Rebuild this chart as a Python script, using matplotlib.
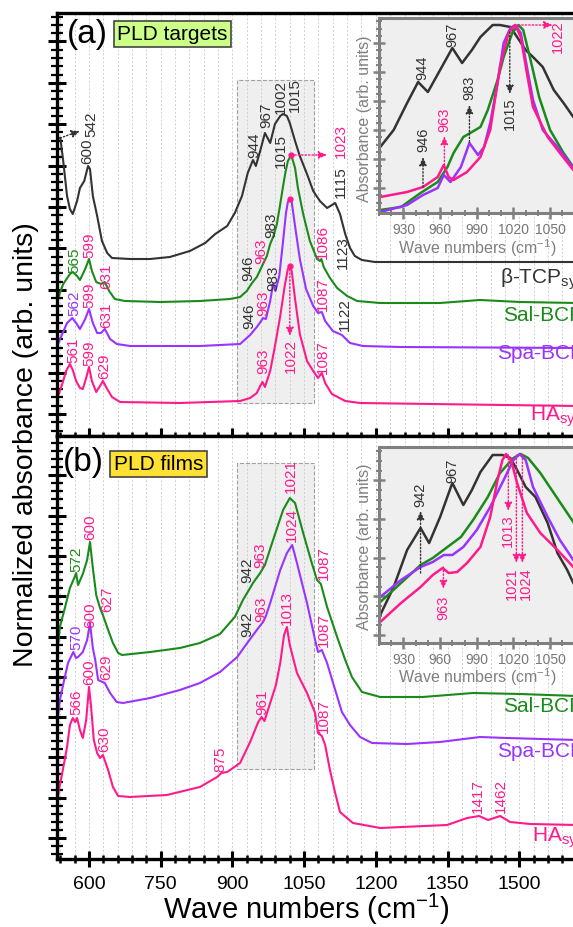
import numpy as np
import matplotlib.pyplot as plt
from matplotlib.patches import Rectangle
from matplotlib.ticker import MultipleLocator, FixedLocator

plt.rcParams['font.family'] = ['Liberation Sans', 'DejaVu Sans']
plt.rcParams['mathtext.fontset'] = 'custom'
plt.rcParams['mathtext.rm'] = 'Liberation Sans'
plt.rcParams['mathtext.it'] = 'Liberation Sans:italic'
plt.rcParams['mathtext.default'] = 'regular'

BLK, GRN, PUR, PNK = '#333333', '#1a8a1a', '#9933ff', '#ff1a8c'
GREY = '#808080'

# ---------- (a) PLD targets, main spectra ----------
a_tcp_wn = [533, 540, 546, 554, 560, 566, 575, 581, 590, 598, 602, 608, 617, 627, 638, 648, 686, 728,
            769, 811, 843, 864, 889, 905, 920, 932, 943, 949, 958, 968, 979, 989, 1000, 1006, 1014,
            1020, 1031, 1041, 1056, 1069, 1083, 1098, 1115, 1125, 1136, 1146, 1156, 1171, 1198, 1300,
            1450, 1620]
a_tcp_ab = [298, 298, 275, 240, 227, 222, 235, 248, 255, 270, 267, 240, 220, 195, 183, 178, 177, 177,
            179, 185, 193, 202, 210, 223, 240, 263, 276, 270, 285, 303, 293, 312, 320, 322, 320,
            313, 295, 280, 262, 245, 235, 228, 233, 222, 202, 188, 180, 176, 174, 174,
            174, 174]

a_sal_wn = [533, 546, 560, 566, 575, 581, 592, 600, 606, 615, 625, 633, 642, 654, 675, 749, 832, 895,
            916, 930, 941, 951, 964, 972, 979, 986, 993, 1000, 1006, 1011, 1016, 1023, 1031, 1037,
            1048, 1062, 1077, 1083, 1086, 1091, 1104, 1119, 1140, 1161, 1209, 1334, 1418, 1502, 1620]
a_sal_ab = [135, 152, 162, 164, 160, 156, 167, 177, 165, 154, 152, 154, 145, 137, 135, 134, 135, 137,
            139, 145, 153, 159, 172, 180, 192, 200, 212, 232, 250, 264, 275, 281, 268, 248,
            222, 195, 177, 175, 177, 169, 158, 148, 140, 135, 133, 133, 136, 134, 133]

a_spa_wn = [533, 544, 554, 565, 573, 581, 592, 600, 608, 617, 625, 633, 644, 658, 686, 832, 916, 937,
            951, 960, 964, 970, 979, 985, 990, 998, 1006, 1012, 1016, 1020, 1024, 1031, 1041, 1054,
            1069, 1079, 1087, 1094, 1110, 1129, 1146, 1173, 1251, 1620]
a_spa_ab = [90, 102, 113, 118, 113, 107, 117, 127, 113, 103, 103, 107, 97, 92, 90, 90, 92, 101,
            109, 115, 118, 117, 135, 152, 145, 160, 195, 223, 234, 237, 234, 210, 177, 147,
            130, 123, 124, 115, 105, 101, 93, 90, 89, 88]

a_ha_wn = [533, 544, 552, 560, 566, 573, 581, 587, 594, 600, 606, 615, 623, 629, 638, 648, 665, 790,
           916, 937, 951, 958, 963, 968, 979, 989, 1000, 1010, 1016, 1020, 1024, 1031, 1041, 1056,
           1069, 1079, 1087, 1094, 1108, 1136, 1167, 1620]
a_ha_ab = [37, 52, 65, 72, 66, 55, 48, 47, 58, 69, 55, 44, 50, 55, 47, 39, 34, 33,
           35, 38, 43, 50, 54, 49, 65, 90, 120, 152, 167, 170, 165, 137, 102, 75,
           65, 58, 63, 53, 42, 35, 33, 30]

# ---------- (b) PLD films, main spectra ----------
b_sal_wn = [531, 539, 550, 560, 569, 573, 577, 587, 596, 602, 608, 615, 623, 629, 640, 650, 661, 669,
            728, 790, 832, 874, 905, 922, 943, 958, 968, 985, 1006, 1020, 1031, 1048, 1066, 1077,
            1085, 1098, 1119, 1136, 1150, 1171, 1209, 1298, 1403, 1502, 1620]
b_sal_ab = [192, 232, 252, 271, 281, 286, 274, 285, 299, 317, 291, 264, 251, 244, 229, 216, 206, 204,
            207, 211, 216, 225, 242, 259, 276, 286, 294, 319, 349, 361, 356, 326, 296, 279,
            275, 252, 222, 199, 182, 167, 162, 162, 166, 165, 163]

b_spa_wn = [531, 539, 548, 556, 567, 573, 577, 587, 596, 602, 608, 613, 619, 633, 644, 658, 671, 728,
            790, 832, 874, 910, 931, 951, 964, 970, 979, 1000, 1014, 1025, 1035, 1056, 1073, 1079,
            1087, 1098, 1115, 1129, 1146, 1167, 1192, 1265, 1334, 1418, 1474, 1620]
b_spa_ab = [126, 159, 179, 196, 207, 201, 202, 207, 219, 236, 211, 199, 179, 176, 166, 157, 156, 161,
            169, 176, 187, 202, 216, 229, 237, 243, 256, 289, 306, 314, 296, 256, 219, 207,
            209, 196, 169, 147, 134, 122, 116, 115, 117, 122, 121, 119]

b_ha_wn = [531, 537, 544, 554, 560, 566, 571, 575, 581, 587, 594, 600, 604, 610, 617, 623, 629, 640,
           650, 661, 686, 763, 832, 868, 877, 889, 916, 937, 954, 961, 967, 979, 991, 1000, 1008,
           1014, 1020, 1035, 1056, 1073, 1079, 1087, 1094, 1104, 1115, 1125, 1152, 1209, 1349, 1391,
           1416, 1435, 1460, 1481, 1523, 1620]
b_ha_ab = [44, 69, 86, 112, 134, 141, 137, 141, 129, 121, 139, 172, 154, 119, 106, 101, 104, 89,
           72, 63, 62, 64, 72, 82, 86, 87, 96, 117, 137, 142, 138, 156, 174, 196, 224,
           232, 214, 186, 166, 146, 126, 123, 114, 89, 66, 47, 36, 31, 34, 41,
           43, 39, 43, 37, 35, 34]

# ---------- insets (zoom 910-1070 cm-1) ----------
ia_tcp_wn = [911, 922, 933, 942, 950, 960, 970, 978, 986, 993, 1003, 1009, 1017.5, 1023, 1030, 1036,
             1044, 1053, 1061, 1069, 1072]
ia_tcp_ab = [66, 83, 110, 131, 121, 143, 165, 150, 163, 176, 188, 188, 186, 176, 163, 156,
             146, 123, 110, 96, 92]
ia_sal_wn = [911, 928, 944, 958, 966, 971, 979, 986, 993, 999, 1007, 1012, 1019, 1024, 1028, 1034,
             1041, 1050, 1061, 1069, 1072]
ia_sal_ab = [3, 6, 20, 31, 46, 60, 76, 81, 86, 103, 133, 156, 180, 188, 183, 153,
             116, 83, 60, 46, 43]
ia_spa_wn = [911, 933, 946, 958, 963, 968.5, 977, 984, 991, 996, 1001, 1007, 1012, 1017.5, 1021.5,
             1026, 1031, 1036, 1044, 1056, 1069, 1072]
ia_spa_ab = [1, 8, 18, 25, 38, 31, 46, 70, 58, 66, 90, 130, 170, 185, 188,
             180, 146, 113, 83, 66, 45, 42]
ia_ha_wn = [911, 933, 946, 958, 963, 967, 971, 982, 993, 1001, 1009, 1016, 1021.5, 1026, 1031, 1036,
            1048, 1058, 1069, 1072]
ia_ha_ab = [16, 21, 26, 36, 48, 36, 33, 41, 56, 83, 146, 180, 188, 176, 140, 106,
            76, 60, 43, 40]

ib_tcp_wn = [911, 922, 933, 944, 951, 960, 970, 979, 986, 993, 1003, 1011, 1017.5, 1023, 1030, 1038,
             1048, 1056, 1064, 1069, 1072]
ib_tcp_ab = [28, 56, 93, 115, 100, 126, 160, 138, 153, 171, 188, 188, 185, 173, 156, 146,
             120, 90, 73, 60, 54]
ib_sal_wn = [911, 928, 944, 954, 966, 977, 987, 999, 1009, 1020, 1026, 1032, 1042, 1053, 1064, 1069,
             1072]
ib_sal_ab = [41, 60, 78, 85, 96, 106, 123, 146, 170, 185, 189, 185, 170, 150, 130, 121, 116]
ib_spa_wn = [911, 928, 944, 954, 963, 970, 979, 990, 1001, 1012, 1020, 1025, 1030, 1036, 1048, 1058,
             1069, 1072]
ib_spa_ab = [46, 63, 76, 81, 88, 88, 96, 113, 136, 163, 183, 189, 183, 156, 126, 103, 83, 78]
ib_ha_wn = [911, 928, 944, 954, 962, 967, 974, 982, 993, 1001, 1007, 1011, 1014, 1018, 1023, 1031,
            1042, 1056, 1069, 1072]
ib_ha_ab = [21, 40, 56, 68, 75, 70, 71, 80, 96, 126, 163, 183, 189, 183, 160, 130,
            110, 93, 76, 72]

# peak labels: (wavenumber, height, text, colour)
a_peaks = [(595.8, 272, '600', BLK), (604.2, 299, '542', BLK),
           (946, 278, '944', BLK), (971, 308, '967', BLK), (1002, 322, '1002', BLK),
           (1030, 324, '1015', BLK), (1002, 268, '1015', BLK),
           (1126, 278, '1023', PNK), (1126, 238, '1115', BLK), (1131, 167, '1123', BLK),
           (1088.5, 177, '1086', PNK),
           (932.6, 155, '946', BLK), (959.8, 172, '963', PNK), (980.7, 198, '983', BLK),
           (934.7, 107, '946', BLK), (964, 120, '963', PNK), (985, 145, '983', BLK),
           (1089.5, 125, '1087', PNK), (1135.6, 105, '1122', BLK),
           (964, 62, '963', PNK), (1021.5, 63, '1022', PNK), (1089.5, 62, '1087', PNK),
           (568.6, 163, '565', GRN), (600, 178, '599', PNK), (635.6, 147, '631', PNK),
           (568.6, 120, '562', PUR), (600, 128, '599', PNK), (635.6, 108, '631', PNK),
           (566.5, 73, '561', PNK), (600, 70, '599', PNK), (631.4, 57, '629', PNK)]
b_peaks = [(572.8, 287, '572', GRN), (602, 319, '600', PNK), (637.7, 247, '627', PNK),
           (572.8, 209, '570', PUR), (602, 231, '600', PNK), (635.6, 179, '629', PNK),
           (572.8, 144, '566', PNK), (600, 174, '600', PNK), (631.4, 107, '630', PNK),
           (874, 87, '875', PNK), (962, 144, '961', PNK),
           (930.5, 276, '942', BLK), (957.7, 291, '963', PNK),
           (930.5, 222, '942', BLK), (959.8, 237, '963', PNK),
           (1022.6, 366, '1021', PNK), (1024.7, 317, '1024', PNK), (1014.2, 234, '1013', PNK),
           (1091.6, 279, '1087', PNK), (1091.6, 212, '1087', PNK), (1091.6, 126, '1087', PNK),
           (1413.8, 46, '1417', PNK), (1461.9, 46, '1462', PNK)]
ia_peaks = [(945.5, 133, '944', BLK), (970, 166, '967', BLK), (946, 61, '946', BLK),
            (963.5, 81, '963', PNK), (984, 113, '983', BLK), (1017, 83, '1015', BLK),
            (1056.7, 160, '1022', PNK)]
ib_peaks = [(944, 136, '942', BLK), (970, 160, '967', BLK), (962.7, 23, '963', PNK),
            (1015.8, 96, '1013', PNK), (1019, 43, '1021', PNK), (1030.5, 43, '1024', PNK)]

W, H = 573, 927
fig = plt.figure(figsize=(W / 100, H / 100), dpi=100)


def frame(l, t, r, b):
    return [l / W, 1 - b / H, (r - l) / W, (b - t) / H]


def arrow(ax, x0, y0, x1, y1, c):
    ax.annotate('', xy=(x1, y1), xytext=(x0, y0),
                arrowprops=dict(arrowstyle='-|>,head_length=0.5,head_width=0.22', color=c,
                                lw=1.0, ls=(0, (1, 1.5)), shrinkA=0, shrinkB=0))


def labels(ax, peaks, size):
    for w, v, s, c in peaks:
        ax.text(w, v, s, rotation=90, ha='center', va='bottom', fontsize=size, color=c)


def style_main(ax, top, y0, ystep, show_x):
    ax.set_xlim(533, 1620)
    ax.set_ylim(0, top)
    ax.xaxis.set_major_locator(MultipleLocator(150))
    ax.xaxis.set_minor_locator(MultipleLocator(30))
    ax.yaxis.set_major_locator(FixedLocator(np.arange(y0, top, ystep)))
    ax.yaxis.set_minor_locator(FixedLocator(np.arange(y0 - ystep, top, ystep / 5)))
    ax.tick_params(which='both', direction='inout', top=False, right=False,
                   labelleft=False, labelbottom=show_x)
    ax.tick_params(axis='x', which='major', length=11, width=2.2, labelsize=14, pad=7)
    ax.tick_params(axis='x', which='minor', length=6, width=1.8)
    ax.tick_params(axis='y', which='major', length=13, width=2.2)
    ax.tick_params(axis='y', which='minor', length=8, width=1.6)
    for s in ax.spines.values():
        s.set_linewidth(2.4)
    ax.spines['right'].set_visible(False)
    ax.grid(axis='x', which='both', color='#cfcfcf', ls=(0, (2, 2)), lw=0.7)
    ax.set_axisbelow(True)


def style_inset(ax, top, y0, ystep):
    ax.set_facecolor('#efefef')
    ax.set_xlim(910, 1072)
    ax.set_ylim(0, top)
    ax.xaxis.set_major_locator(MultipleLocator(30))
    ax.xaxis.set_minor_locator(MultipleLocator(10))
    ax.yaxis.set_major_locator(FixedLocator(np.arange(y0, top, ystep)))
    ax.yaxis.set_minor_locator(FixedLocator(np.arange(y0 - ystep, top, ystep / 4)))
    ax.tick_params(which='both', direction='inout', top=False, right=False, color=GREY,
                   labelleft=False, labelcolor='#777777', labelsize=10)
    ax.tick_params(which='major', length=8, width=1.8, pad=3.5)
    ax.tick_params(which='minor', length=5, width=1.4)
    for s in ax.spines.values():
        s.set_linewidth(2.2)
        s.set_color(GREY)


# ---------- panel (a) ----------
ax_a = fig.add_axes(frame(57, 13, 576.6, 436))
style_main(ax_a, 423, 22, 41.4, False)
ax_a.add_patch(Rectangle((910, 33), 160, 323, fc='#efefef', ec='#a0a0a0', ls='--', lw=0.8, zorder=0.1))
ax_a.plot(a_tcp_wn, a_tcp_ab, color=BLK, lw=1.5)
ax_a.plot(a_sal_wn, a_sal_ab, color=GRN, lw=1.5)
ax_a.plot(a_spa_wn, a_spa_ab, color=PUR, lw=1.5)
ax_a.plot(a_ha_wn, a_ha_ab, color=PNK, lw=1.5)
labels(ax_a, a_peaks, 11)
arrow(ax_a, 539.5, 298, 581, 305, BLK)
ax_a.plot([1023, 1020, 1020], [281, 237, 170], 'o', ms=3.5, color=PNK)
arrow(ax_a, 1023, 281, 1098, 281, PNK)
arrow(ax_a, 1020, 170, 1020, 100, PNK)
ax_a.text(1460, 152, 'β-TCP$_{syn}$', color=BLK, fontsize=15, va='baseline')
ax_a.text(1466, 115, 'Sal-BCP', color=GRN, fontsize=15, va='baseline')
ax_a.text(1453.5, 77, 'Spa-BCP', color=PUR, fontsize=15, va='baseline')
ax_a.text(1522, 15, 'HA$_{syn}$', color=PNK, fontsize=15, va='baseline')

# ---------- panel (b) ----------
ax_b = fig.add_axes(frame(57, 436, 576.6, 859))
style_main(ax_b, 423, 21, 40.3, True)
ax_b.add_patch(Rectangle((910, 90), 160, 306, fc='#efefef', ec='#a0a0a0', ls='--', lw=0.8, zorder=0.1))
ax_b.plot(b_sal_wn, b_sal_ab, color=GRN, lw=1.5)
ax_b.plot(b_spa_wn, b_spa_ab, color=PUR, lw=1.5)
ax_b.plot(b_ha_wn, b_ha_ab, color=PNK, lw=1.5)
labels(ax_b, b_peaks, 11)
ax_b.text(1466, 147, 'Sal-BCP', color=GRN, fontsize=15, va='baseline')
ax_b.text(1453.5, 102, 'Spa-BCP', color=PUR, fontsize=15, va='baseline')
ax_b.text(1527, 17, 'HA$_{syn}$', color=PNK, fontsize=15, va='baseline')

# ---------- inset (a) ----------
ia = fig.add_axes(frame(379, 18, 577, 213))
style_inset(ia, 195, 25, 29)
ia.plot(ia_tcp_wn, ia_tcp_ab, color=BLK, lw=1.8)
ia.plot(ia_sal_wn, ia_sal_ab, color=GRN, lw=1.8)
ia.plot(ia_spa_wn, ia_spa_ab, color=PUR, lw=1.8)
ia.plot(ia_ha_wn, ia_ha_ab, color=PNK, lw=1.8)
labels(ia, ia_peaks, 10.5)
arrow(ia, 946, 26, 946, 56, BLK)
arrow(ia, 963.5, 48, 963.5, 77, PNK)
arrow(ia, 984, 71, 984, 108, BLK)
arrow(ia, 1017, 181, 1017, 119, BLK)
arrow(ia, 1024, 188, 1052, 188, PNK)

# ---------- inset (b) ----------
ib = fig.add_axes(frame(379, 447, 577, 643))
style_inset(ib, 196, 8, 38.7)
ib.plot(ib_tcp_wn, ib_tcp_ab, color=BLK, lw=1.8)
ib.plot(ib_sal_wn, ib_sal_ab, color=GRN, lw=1.8)
ib.plot(ib_spa_wn, ib_spa_ab, color=PUR, lw=1.8)
ib.plot(ib_ha_wn, ib_ha_ab, color=PNK, lw=1.8)
labels(ib, ib_peaks, 10.5)
arrow(ib, 944, 70, 944, 132, BLK)
arrow(ib, 962.7, 76, 962.7, 54, PNK)
arrow(ib, 1015.8, 188, 1015.8, 132, PNK)
arrow(ib, 1022.4, 188, 1022.4, 80, PNK)
arrow(ib, 1027.3, 188, 1027.3, 80, PNK)

for yy, yx in ((119, 254), (547, 683)):
    fig.text(365 / W, 1 - yy / H, 'Absorbance (arb. units)', rotation=90, color=GREY,
             fontsize=11.5, ha='center', va='center')
    fig.text(477 / W, 1 - yx / H, 'Wave numbers (cm$^{-1}$)', color=GREY,
             fontsize=11.5, ha='center', va='baseline')

# ---------- figure texts ----------
fig.text(67 / W, 1 - 35 / H, '(a)', fontsize=24, ha='left', va='center')
fig.text(172.5 / W, 1 - 34 / H, 'PLD targets', fontsize=15, ha='center', va='center',
         bbox=dict(boxstyle='square,pad=0.18', fc='#ccff88', ec='#444444', lw=1.2))
fig.text(63 / W, 1 - 462 / H, '(b)', fontsize=24, ha='left', va='center')
fig.text(158.5 / W, 1 - 464 / H, 'PLD films', fontsize=15, ha='center', va='center',
         bbox=dict(boxstyle='square,pad=0.18', fc='#ffe033', ec='#444444', lw=1.2))
fig.text(26 / W, 1 - 445 / H, 'Normalized absorbance (arb. units)', rotation=90,
         fontsize=20.5, ha='center', va='center')
fig.text(306 / W, 1 - 919 / H, 'Wave numbers (cm$^{-1}$)', fontsize=21, ha='center', va='baseline')

fig.savefig('out.png', dpi=100)
